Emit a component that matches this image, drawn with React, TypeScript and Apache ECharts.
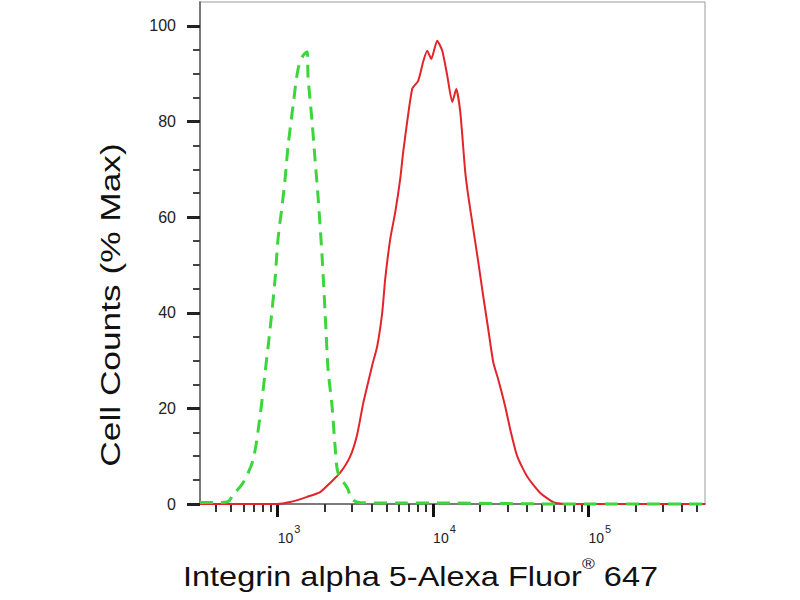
import { useEffect, useRef } from "react";
import * as echarts from "echarts";

// fluorescence intensity (plotted on a log axis) and cell counts as % of max
const sampleIntensity = [
  316, 990, 1200, 1545, 1874, 2173, 2518, 2922, 3243, 3545, 3822, 4055, 4367, 4702, 4914, 5296,
  5702, 6141, 6417, 7330, 8015, 8630, 9160, 9720, 10620, 11450, 12330, 13280, 14090, 14950, 16100,
  16840, 18130, 19530, 21030, 22650, 24400, 26280, 29150, 31400, 34840, 40400, 48960, 59400, 73100,
  562000,
];
const sampleCounts = [
  0, 0, 0.4, 1.5, 2.5, 4.4, 6.5, 9.9, 14.5, 21, 25.5, 29, 33, 40, 47, 55.4, 61, 68, 73.6, 86.8, 88.5,
  92.5, 94.8, 93.1, 96.9, 94.8, 89.6, 84.1, 86.8, 82, 69.4, 64.4, 57.5, 50.6, 43.4, 36.5, 29.6, 26,
  20.3, 15.5, 9.9, 5.7, 2.3, 0.4, 0, 0,
];

const controlIntensity = [
  316, 406, 479, 515, 597, 693, 769, 829, 892, 961, 1004, 1066, 1115, 1166, 1255, 1352, 1456, 1545,
  1567, 1663, 1739, 1820, 1929, 2048, 2109, 2239, 2340, 2444, 2800, 3013, 3390, 6140, 12900, 27000,
  65800, 562000,
];
const controlCounts = [
  0.3, 0.3, 0.5, 1.9, 4.4, 9.2, 18.3, 27.5, 36.5, 47, 55.4, 62.3, 68, 74.9, 83.3, 91, 93.8, 94.6,
  89.4, 80, 72, 64, 51.8, 35.9, 28.1, 20.3, 12, 6.5, 3.4, 1, 0.3, 0.2, 0.2, 0.1, 0, 0,
];

// axis ticks
const xMajorTicks = [1000, 10000, 100000];
const xMinorTicks = [
  400, 500, 600, 700, 800, 900,
  2000, 3000, 4000, 5000, 6000, 7000, 8000, 9000,
  20000, 30000, 40000, 50000, 60000, 70000, 80000, 90000,
  200000, 300000, 400000, 500000,
];
const yMajorTicks = [0, 20, 40, 60, 80, 100];
const yMinorTicks = [5, 10, 15, 25, 30, 35, 45, 50, 55, 65, 70, 75, 85, 90, 95];

const X_MIN = 316;
const X_MAX = 562000;
const FONT = '"Liberation Sans", Arial, Helvetica, sans-serif';

const App = () => {
  const chartRef = useRef<HTMLDivElement>(null);

  useEffect(() => {
    if (!chartRef.current) return;

    const chart = echarts.init(chartRef.current, null, { renderer: "svg" });

    const xBase = {
      type: "log" as const,
      logBase: 10,
      min: X_MIN,
      max: X_MAX,
      position: "bottom" as const,
      splitLine: { show: false },
    };
    const yBase = {
      type: "value" as const,
      min: 0,
      max: 105,
      position: "left" as const,
      splitLine: { show: false },
    };

    const option: echarts.EChartsOption = {
      animation: false,
      backgroundColor: "#ffffff",

      grid: {
        left: 200,
        right: 95,
        top: 2,
        bottom: 96,
        show: true,
        borderColor: "#9a9a9a",
        borderWidth: 1,
      },

      xAxis: [
        {
          ...xBase,
          axisLine: { lineStyle: { color: "#7a7a7a", width: 2 } },
          axisTick: {
            customValues: xMinorTicks,
            length: 8,
            lineStyle: { color: "#333", width: 2 },
          },
          axisLabel: { show: false },
        },
        {
          ...xBase,
          axisLine: { show: false },
          axisTick: {
            customValues: xMajorTicks,
            length: 13,
            lineStyle: { color: "#111", width: 3 },
          },
          axisLabel: {
            customValues: xMajorTicks,
            margin: 23,
            align: "left",
            fontSize: 14,
            color: "#222",
            fontFamily: FONT,
            formatter: (v: number) => `{b|10}{s|${Math.round(Math.log10(v))}}`,
            rich: {
              b: { fontSize: 14, lineHeight: 14, padding: [8, 0, 0, 0], color: "#222", fontFamily: FONT },
              s: { fontSize: 11, lineHeight: 11, padding: [0, 0, 11, 1], color: "#222", fontFamily: FONT },
            },
          },
        },
      ],

      yAxis: [
        {
          ...yBase,
          axisLine: { show: true, lineStyle: { color: "#7a7a7a", width: 2 } },
          axisTick: {
            customValues: yMajorTicks,
            length: 13,
            lineStyle: { color: "#222", width: 3 },
          },
          axisLabel: {
            customValues: yMajorTicks,
            margin: 24,
            fontSize: 16,
            color: "#222",
            fontFamily: FONT,
          },
        },
        {
          ...yBase,
          axisLine: { show: false },
          axisTick: {
            customValues: yMinorTicks,
            length: 7,
            lineStyle: { color: "#444", width: 2 },
          },
          axisLabel: { show: false },
        },
      ],

      series: [
        {
          type: "line",
          name: "Integrin alpha 5",
          xAxisIndex: 0,
          yAxisIndex: 0,
          data: sampleIntensity.map((x, i) => [x, sampleCounts[i]]),
          showSymbol: false,
          smooth: 0.2,
          clip: false,
          lineStyle: { color: "#e3242b", width: 2 },
          z: 3,
        },
        {
          type: "line",
          name: "Isotype control",
          xAxisIndex: 0,
          yAxisIndex: 0,
          data: controlIntensity.map((x, i) => [x, controlCounts[i]]),
          showSymbol: false,
          smooth: 0.3,
          clip: false,
          lineStyle: { color: "#3cd63c", width: 3, type: [13, 8] },
          z: 4,
        },
      ],

      graphic: [
        {
          type: "text",
          silent: true,
          x: 183,
          y: 556,
          scaleX: 1.16,
          style: {
            text: "{m|Integrin alpha 5-Alexa Fluor}{sup|®}{m| 647}",
            align: "left",
            verticalAlign: "top",
            fill: "#111",
            rich: {
              m: { fontSize: 28, lineHeight: 34, verticalAlign: "bottom", fontFamily: FONT, fill: "#111" },
              sup: { fontSize: 15, lineHeight: 17, verticalAlign: "top", fontFamily: FONT, fill: "#111" },
            },
          },
        },
        {
          type: "text",
          silent: true,
          x: 110,
          y: 305,
          rotation: Math.PI / 2,
          scaleX: 1.26,
          style: {
            text: "Cell Counts (% Max)",
            align: "center",
            verticalAlign: "middle",
            fontSize: 28,
            fontFamily: FONT,
            fill: "#111",
          },
        },
      ],
    };

    chart.setOption(option);

    return () => {
      chart.dispose();
    };
  }, []);

  return (
    <div
      ref={chartRef}
      style={{ position: "fixed", left: 0, top: 0, width: 800, height: 600 }}
    />
  );
};

export default App;
